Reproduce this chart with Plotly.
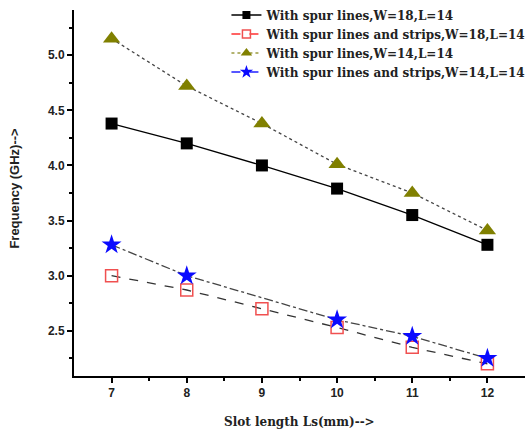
import plotly.graph_objects as go

slot_length = [7, 8, 9, 10, 11, 12]
spur_w18 = [4.38, 4.20, 4.00, 3.79, 3.55, 3.28]
spur_strips_w18 = [3.00, 2.87, 2.70, 2.53, 2.35, 2.20]
spur_w14 = [5.15, 4.72, 4.38, 4.01, 3.75, 3.41]
strips_x = [7, 8, 10, 11, 12]
spur_strips_w14 = [3.28, 3.00, 2.60, 2.45, 2.25]

names = [
    "With spur lines,W=18,L=14",
    "With spur lines and strips,W=18,L=14",
    "With spur lines,W=14,L=14",
    "With spur lines and strips,W=14,L=14",
]

series = [
    (slot_length, spur_w18, dict(symbol="square", color="black"),
     12, 8, "black", "solid", "black"),
    (slot_length, spur_strips_w18,
     dict(symbol="square-open", color="#f05050", line=dict(width=1.5)),
     12, 8, "#333333", "dash", "#ff3030"),
    (slot_length, spur_w14, dict(symbol="triangle-up", color="#808000"),
     15, 10, "#444444", "dot", "#9a9a40"),
    (strips_x, spur_strips_w14, dict(symbol="star", color="#0a0aff"),
     15, 10, "#444444", "dashdot", "#2020ff"),
]

fig = go.Figure()
for name, (xs, ys, marker, msize, lsize, lcol, dash, legcol) in zip(names, series):
    # plotted curve: dark connecting line with coloured markers
    fig.add_trace(go.Scatter(x=xs, y=ys, mode="lines", showlegend=False,
                             line=dict(color=lcol, width=1.3, dash=dash)))
    fig.add_trace(go.Scatter(x=xs, y=ys, mode="markers", showlegend=False,
                             marker=dict(marker, size=msize)))
    # legend entry with coloured line sample
    fig.add_trace(go.Scatter(x=[None], y=[None], mode="lines+markers", name=name,
                             line=dict(color=legcol, width=1.5, dash=dash),
                             marker=dict(marker, size=lsize)))

axis_common = dict(
    showline=True, linecolor="black", linewidth=2, mirror=False,
    ticks="outside", ticklen=5, tickwidth=2, tickcolor="black",
    showgrid=False, zeroline=False,
    tickfont=dict(family="Liberation Sans", size=12, color="#222222",
                  weight="bold"),
)

fig.update_xaxes(range=[6.5, 12.5], tickvals=slot_length,
                 minor=dict(ticks="outside", ticklen=3, tickwidth=2,
                            tickcolor="black", tickvals=[7.5, 8.5, 9.5, 10.5, 11.5]),
                 **axis_common)
fig.update_yaxes(range=[2.09, 5.41], tickvals=[2.5, 3.0, 3.5, 4.0, 4.5, 5.0],
                 ticktext=["2.5", "3.0", "3.5", "4.0", "4.5", "5.0"],
                 minor=dict(ticks="outside", ticklen=3, tickwidth=2,
                            tickcolor="black",
                            tickvals=[2.25, 2.75, 3.25, 3.75, 4.25, 4.75, 5.25]),
                 **axis_common)

fig.add_annotation(text="<b>Slot length Ls(mm)--></b>", xref="paper", yref="paper",
                   x=0.5, y=0, yshift=-46, showarrow=False, yanchor="middle",
                   font=dict(family="DejaVu Serif", size=12, color="#222222"))
fig.add_annotation(text="<b>Frequency (GHz)--></b>", xref="paper", yref="paper",
                   x=0, xshift=-59, y=0.512, textangle=-90, showarrow=False,
                   xanchor="center", yanchor="middle",
                   font=dict(family="Liberation Sans", size=13, color="#222222"))

fig.update_layout(
    width=531, height=434,
    margin=dict(l=74, r=6, t=10, b=58, autoexpand=False),
    paper_bgcolor="white", plot_bgcolor="white",
    showlegend=True,
    legend=dict(x=0.338, y=1.026, xanchor="left", yanchor="top",
                bgcolor="rgba(0,0,0,0)", tracegroupgap=0,
                font=dict(family="DejaVu Serif", size=12, color="#222222",
                          weight="bold"),
                itemwidth=30),
)

fig.write_html("out.html")
